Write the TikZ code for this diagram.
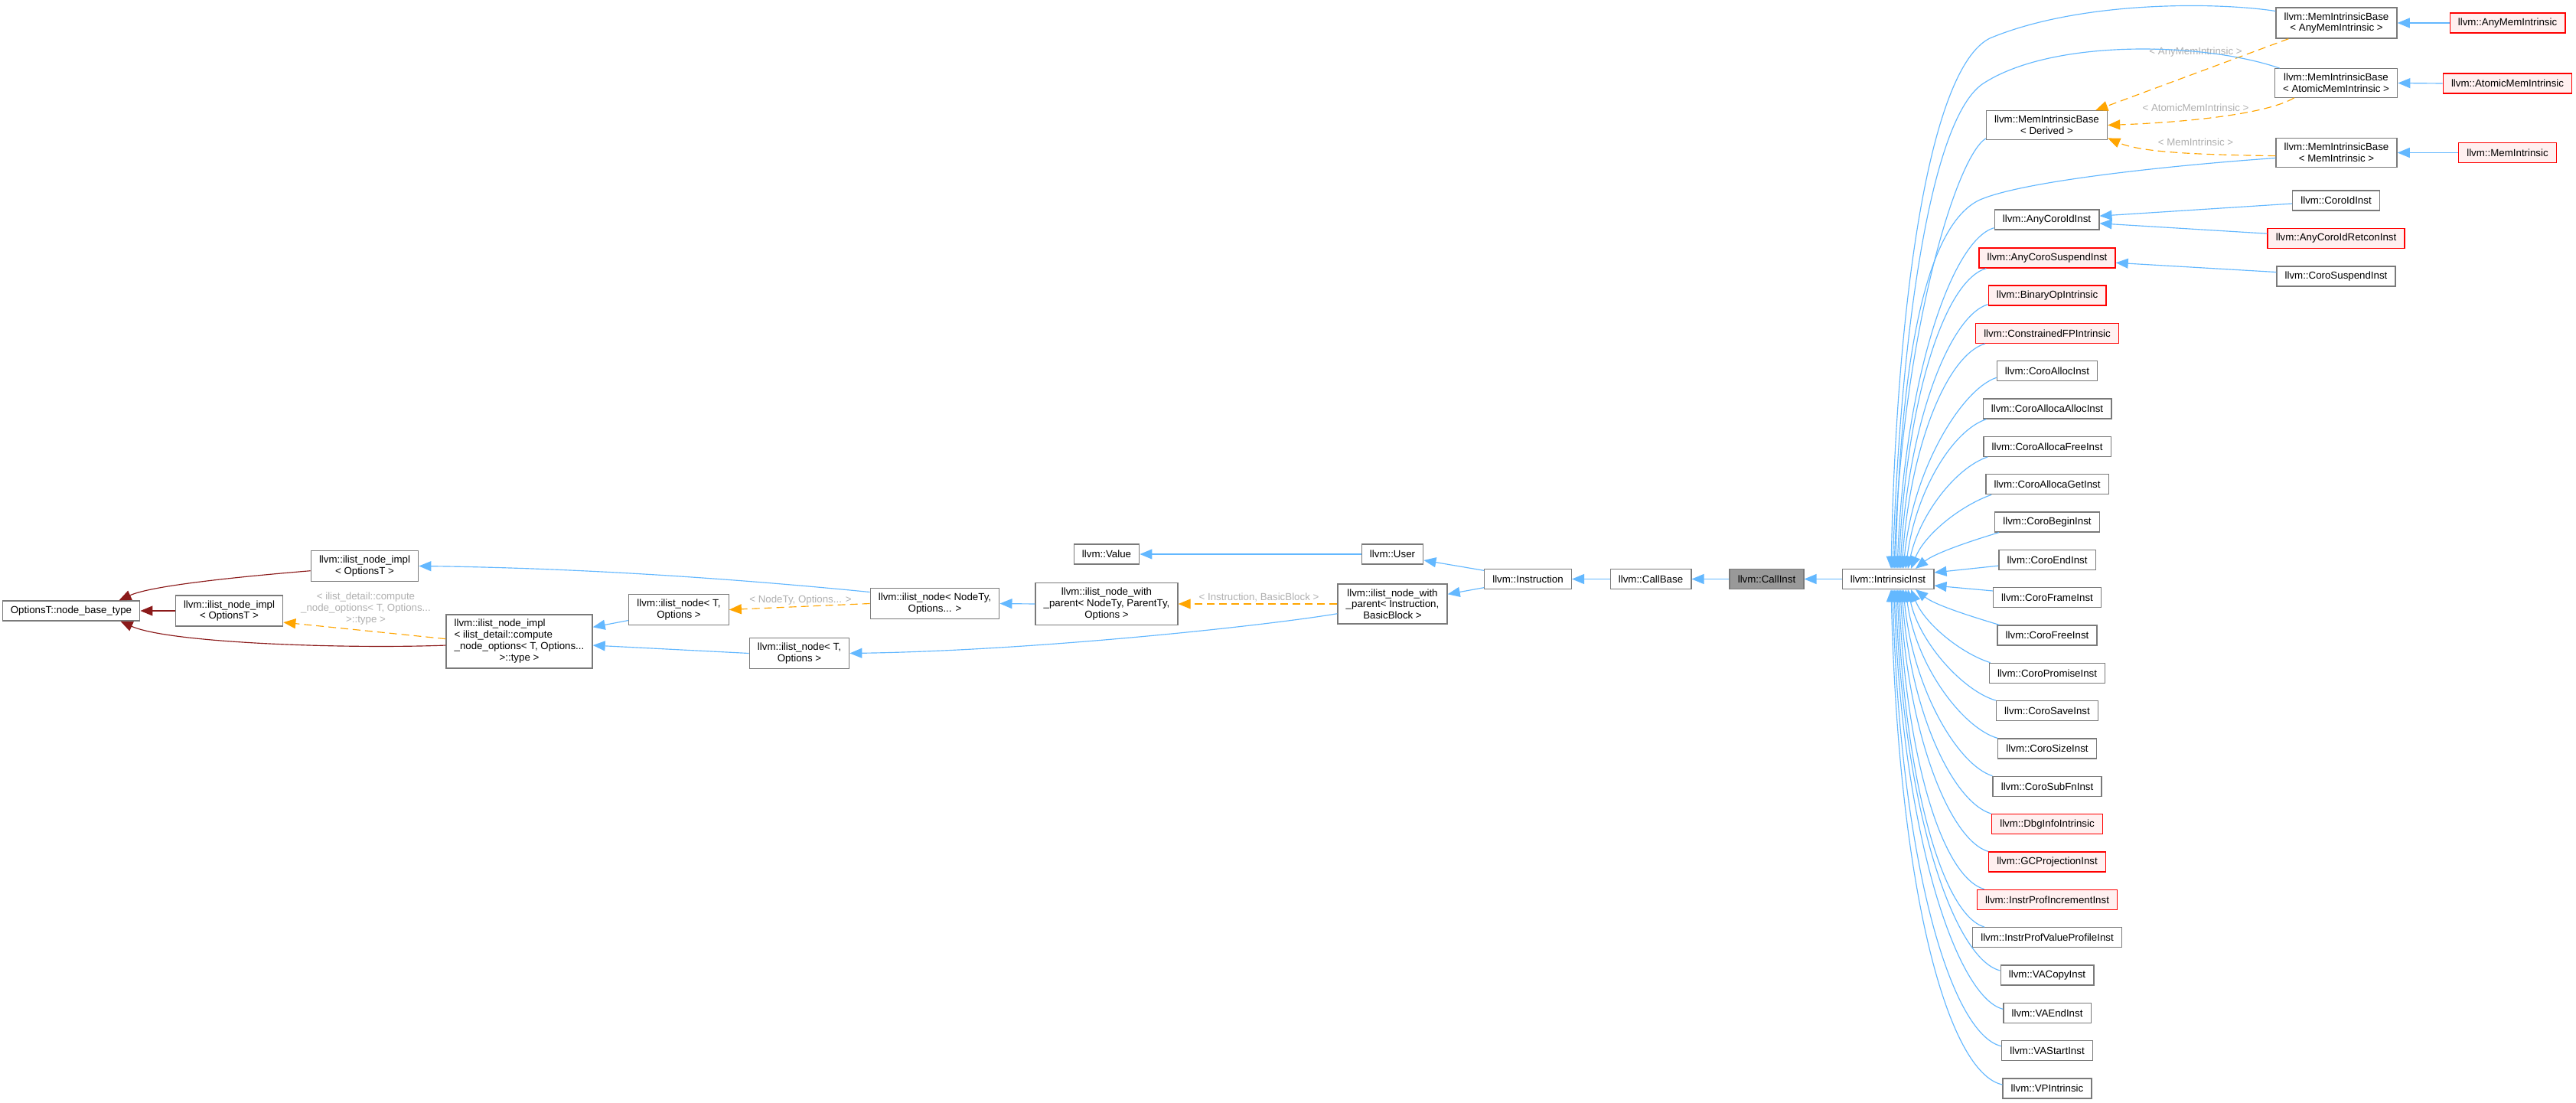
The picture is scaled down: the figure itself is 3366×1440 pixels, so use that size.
\documentclass[tikz,border=0pt]{standalone}
\usepackage{fontspec}
\setmainfont{Liberation Sans}
\usetikzlibrary{arrows.meta}
\definecolor{boxgray}{HTML}{7A7A7A}
\definecolor{edgeblue}{HTML}{63B8FF}
\definecolor{firebrick}{HTML}{8B1A1A}
\definecolor{tmplorange}{HTML}{FFA500}
\definecolor{lblgray}{HTML}{B0B0B0}
\definecolor{hlfill}{HTML}{FFF0F0}
\definecolor{curfill}{HTML}{999999}
\newcommand\fsz{\fontsize{13.3pt}{14.7pt}\selectfont}
\begin{document}
\begin{tikzpicture}[x=1pt,y=-1pt,
  cls/.style={draw=boxgray, line width=1.3pt, fill=white, inner xsep=10.7pt, inner ysep=6.5pt, minimum height=26pt, font=\fsz, align=center},
  hl/.style={cls, draw=red, fill=hlfill},
  cur/.style={cls, fill=curfill},
  inh/.style={draw=edgeblue, line width=1.15pt, -{Triangle[length=16pt,width=13pt]}},
  priv/.style={inh, draw=firebrick},
  tmpl/.style={inh, draw=tmplorange, dash pattern=on 10pt off 6pt},
  lbl/.style={text=lblgray, font=\fsz, align=center, inner sep=0pt},
]
\useasboundingbox (0,0) rectangle (3366,1440);
\fill[white] (0,0) rectangle (3366,1440);

% ---- left part nodes
\node[cls] (ob) at (93,798) {OptionsT::node\_base\_type};
\node[cls] (it) at (476.5,739.5) {llvm::ilist\_node\_impl\\< OptionsT >};
\node[cls] (im) at (299.5,798) {llvm::ilist\_node\_impl\\< OptionsT >};
\node[cls, inner ysep=5.5pt] (cm) at (678.5,838) {\begin{tabular}{@{}l@{}}llvm::ilist\_node\_impl\\< ilist\_detail::compute\\\_node\_options< T, Options...\\\multicolumn{1}{@{}c@{}}{>::type >}\end{tabular}};
\node[cls] (inT1) at (887,796.5) {llvm::ilist\_node< T,\\Options >};
\node[cls] (inT2) at (1044.5,853.5) {llvm::ilist\_node< T,\\Options >};
\node[cls] (inN) at (1221.5,788.5) {llvm::ilist\_node< NodeTy,\\Options... >};
\node[cls] (wpg) at (1446,789) {llvm::ilist\_node\_with\\\_parent< NodeTy, ParentTy,\\Options >};
\node[cls] (val) at (1446,724) {llvm::Value};
\node[cls] (usr) at (1819.5,724) {llvm::User};
\node[cls] (wpIB) at (1819.5,789) {llvm::ilist\_node\_with\\\_parent< Instruction,\\BasicBlock >};
\node[cls] (ins) at (1996.5,756.5) {llvm::Instruction};
\node[cls] (cb) at (2157,756.5) {llvm::CallBase};
\node[cur] (ci) at (2308.5,756.5) {llvm::CallInst};
\node[cls] (intr) at (2467,756.5) {llvm::IntrinsicInst};

% ---- right part nodes
\node[cls] (der) at (2674.5,163.5) {llvm::MemIntrinsicBase\\< Derived >};
\node[cls] (anyb) at (3053,30) {llvm::MemIntrinsicBase\\< AnyMemIntrinsic >};
\node[cls] (atb) at (3052.5,108.5) {llvm::MemIntrinsicBase\\< AtomicMemIntrinsic >};
\node[cls] (memb) at (3053,199.5) {llvm::MemIntrinsicBase\\< MemIntrinsic >};
\node[hl] (anym) at (3276.5,30) {llvm::AnyMemIntrinsic};
\node[hl] (atm) at (3276.5,109) {llvm::AtomicMemIntrinsic};
\node[hl] (mem) at (3276.5,199.5) {llvm::MemIntrinsic};
\node[cls] (aci) at (2674.5,287) {llvm::AnyCoroIdInst};
\node[cls] (cid) at (3052.5,262) {llvm::CoroIdInst};
\node[hl] (acir) at (3052.5,311.5) {llvm::AnyCoroIdRetconInst};
\node[hl] (acs) at (2675,337) {llvm::AnyCoroSuspendInst};
\node[cls] (csus) at (3052.5,361) {llvm::CoroSuspendInst};
\node[hl] (bop) at (2675,386) {llvm::BinaryOpIntrinsic};
\node[hl] (cfp) at (2675,435.3) {llvm::ConstrainedFPIntrinsic};
\node[cls] (calc) at (2675,484.7) {llvm::CoroAllocInst};
\node[cls] (caal) at (2675,534) {llvm::CoroAllocaAllocInst};
\node[cls] (cafr) at (2675,583.3) {llvm::CoroAllocaFreeInst};
\node[cls] (cagt) at (2675,632.7) {llvm::CoroAllocaGetInst};
\node[cls] (cbeg) at (2675,682) {llvm::CoroBeginInst};
\node[cls] (cend) at (2675,731.3) {llvm::CoroEndInst};
\node[cls] (cfr) at (2675,780.7) {llvm::CoroFrameInst};
\node[cls] (cfree) at (2675,830) {llvm::CoroFreeInst};
\node[cls] (cprom) at (2675,879.3) {llvm::CoroPromiseInst};
\node[cls] (csave) at (2675,928.7) {llvm::CoroSaveInst};
\node[cls] (csize) at (2675,978) {llvm::CoroSizeInst};
\node[cls] (csub) at (2675,1027.3) {llvm::CoroSubFnInst};
\node[hl] (dbg) at (2675,1076.7) {llvm::DbgInfoIntrinsic};
\node[hl] (gcp) at (2675,1126) {llvm::GCProjectionInst};
\node[hl] (ipi) at (2675,1175.3) {llvm::InstrProfIncrementInst};
\node[cls] (ipv) at (2675,1224.7) {llvm::InstrProfValueProfileInst};
\node[cls] (vac) at (2675,1274) {llvm::VACopyInst};
\node[cls] (vae) at (2675,1323.3) {llvm::VAEndInst};
\node[cls] (vas) at (2675,1372.7) {llvm::VAStartInst};
\node[cls] (vp) at (2675,1422) {llvm::VPIntrinsic};

% ---- left edges
\draw[priv] (it.185) .. controls (330,752) and (200,764) .. ([xshift=-28pt]ob.north east);
\draw[priv] (im.west) -- (ob.east);
\draw[priv] (cm.183) .. controls (450,848) and (220,840) .. ([xshift=-26pt]ob.south east);
\draw[tmpl] (cm.178) -- (im.-12);
\node[lbl] (lc) at (478,795) {< ilist\_detail::compute\\\_node\_options< T, Options...\\>::type >};
\draw[inh] (inN.170) .. controls (950,755) and (750,742) .. (it.east);
\draw[inh] (inT1.192) -- (cm.11);
\draw[inh] (inT2.west) -- (cm.-3);
\draw[tmpl] (inN.west) -- (inT1.east);
\node[lbl] (ln) at (1046,784) {< NodeTy, Options... >};
\draw[inh] (wpg.west) -- (inN.east);
\draw[tmpl] (wpIB.west) -- (wpg.east);
\node[lbl] (lib) at (1645,781) {< Instruction, BasicBlock >};
\draw[inh] (wpIB.190) .. controls (1650,818) and (1350,850) .. (inT2.east);
\draw[inh] (usr.west) -- (val.east);
\draw[inh] (ins.169) -- (usr.-11);
\draw[inh] (ins.191) -- (wpIB.10);
\draw[inh] (cb.west) -- (ins.east);
\draw[inh] (ci.west) -- (cb.east);
\draw[inh] (intr.west) -- (ci.east);

% ---- right edges
\draw[inh] (anym.west) -- (anyb.east);
\draw[inh] (atm.west) -- (atb.east);
\draw[inh] (mem.west) -- (memb.east);
\draw[tmpl] ([xshift=17pt]anyb.south west) -- ([xshift=-16pt]der.north east);
\draw[tmpl] ([xshift=26pt]atb.south west) .. controls (2960,150) and (2850,160) .. (der.east);
\draw[tmpl] (memb.183) .. controls (2880,202) and (2800,200) .. (der.-12);
\node[lbl] (la1) at (2869,68) {< AnyMemIntrinsic >};
\node[lbl] (la2) at (2869,141) {< AtomicMemIntrinsic >};
\node[lbl] (la3) at (2869,186) {< MemIntrinsic >};
\draw[inh] (cid.184) -- (aci.4);
\draw[inh] (acir.176) -- (aci.-4);
\draw[inh] (csus.176) -- (acs.-4);
\draw[inh] (cend.187) -- (intr.8);
\draw[inh] (cfr.173) -- (intr.-8);

% top fan into IntrinsicInst
\draw[inh] (anyb.169) .. controls (2900,3) and (2720,0) .. (2600,50) .. controls (2520,90) and (2478,400) .. ([xshift=4pt]intr.north);
\draw[inh] ([xshift=7pt]atb.north west) .. controls (2880,55) and (2680,50) .. (2590,110) .. controls (2520,160) and (2483,450) .. ([xshift=6pt]intr.north);
\draw[inh] ([yshift=2pt]der.south west) .. controls +(-40,25) and +(10,-300) .. ([xshift=8pt]intr.north);
\draw[inh] (memb.185) .. controls (2850,215) and (2640,236) .. (2585,262) .. controls (2510,300) and (2482,500) .. ([xshift=10pt]intr.north);
\draw[inh] ([yshift=3pt]aci.south west) .. controls +(-55,16) and +(10,-250) .. ([xshift=12pt]intr.north);
\draw[inh] ([xshift=10pt]acs.south west) .. controls +(-55,16) and +(10,-220) .. ([xshift=14pt]intr.north);
\draw[inh] ([yshift=2pt]bop.south west) .. controls +(-50,15) and +(10,-190) .. ([xshift=16pt]intr.north);
\draw[inh] ([xshift=13pt]cfp.south west) .. controls +(-50,15) and +(11,-160) .. ([xshift=18pt]intr.north);
\draw[inh] ([yshift=5pt]calc.south west) .. controls +(-45,15) and +(12,-130) .. ([xshift=20pt]intr.north);
\draw[inh] ([xshift=5pt]caal.south west) .. controls +(-45,15) and +(13,-100) .. ([xshift=23pt]intr.north);
\draw[inh] ([xshift=6pt]cafr.south west) .. controls +(-42,14) and +(15,-70) .. ([xshift=26pt]intr.north);
\draw[inh] ([xshift=8pt]cagt.south west) .. controls +(-40,14) and +(18,-45) .. ([xshift=30pt]intr.north);
\draw[inh] ([xshift=6pt]cbeg.south west) .. controls +(-40,12) and +(25,-20) .. ([xshift=36pt]intr.north);

% bottom fan into IntrinsicInst
\draw[inh] ([xshift=3pt]cfree.north west) .. controls +(-40,-12) and +(25,20) .. ([xshift=36pt]intr.south);
\draw[inh] ([xshift=2pt]cprom.north west) .. controls +(-38,-12) and +(18,45) .. ([xshift=30pt]intr.south);
\draw[inh] (csave.north west) .. controls +(-42,-12) and +(15,70) .. ([xshift=26pt]intr.south);
\draw[inh] (csize.north west) .. controls +(-45,-13) and +(13,100) .. ([xshift=23pt]intr.south);
\draw[inh] (csub.north west) .. controls +(-45,-14) and +(12,130) .. ([xshift=20pt]intr.south);
\draw[inh] (dbg.north west) .. controls +(-50,-15) and +(11,160) .. ([xshift=18pt]intr.south);
\draw[inh] (gcp.north west) .. controls +(-50,-15) and +(10,190) .. ([xshift=16pt]intr.south);
\draw[inh] ([xshift=10pt]ipi.north west) .. controls +(-55,-16) and +(10,220) .. ([xshift=14pt]intr.south);
\draw[inh] ([xshift=16pt]ipv.north west) .. controls +(-55,-16) and +(10,250) .. ([xshift=12pt]intr.south);
\draw[inh] ([yshift=6pt]vac.west) .. controls +(-60,-15) and +(10,290) .. ([xshift=10pt]intr.south);
\draw[inh] ([yshift=5pt]vae.west) .. controls +(-60,-15) and +(10,320) .. ([xshift=8pt]intr.south);
\draw[inh] ([yshift=6pt]vas.west) .. controls +(-65,-15) and +(10,360) .. ([xshift=6pt]intr.south);
\draw[inh] ([yshift=5pt]vp.west) .. controls +(-70,-15) and +(10,400) .. ([xshift=4pt]intr.south);
\end{tikzpicture}
\end{document}
